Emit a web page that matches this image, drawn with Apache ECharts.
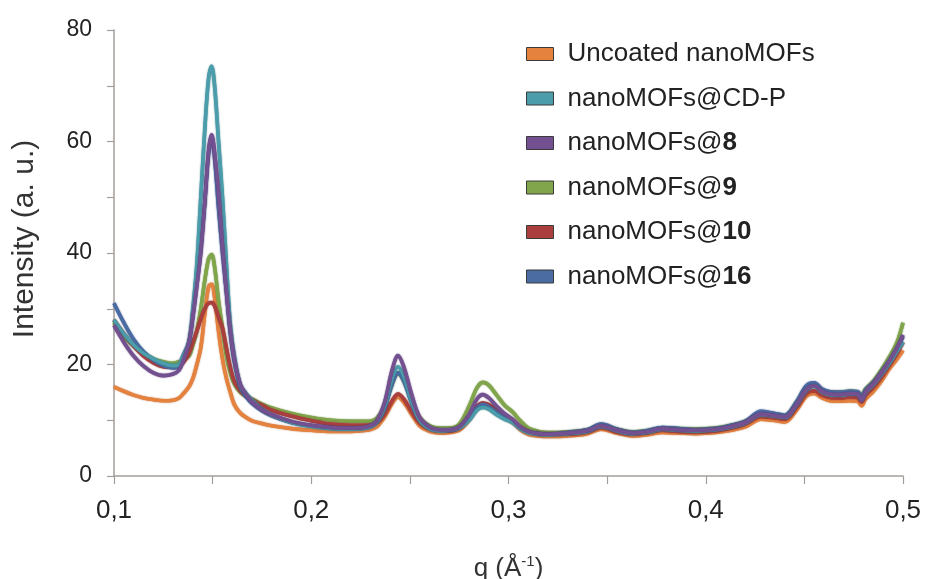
<!DOCTYPE html>
<html>
<head>
<meta charset="utf-8">
<script src="https://cdn.jsdelivr.net/npm/echarts@6/dist/echarts.min.js"></script>
<style>html,body{margin:0;padding:0;background:#fff}#c{width:925px;height:579px}</style>
</head>
<body>
<div id="c"></div>
<script>
const Q = [0.100,0.105,0.110,0.115,0.120,0.125,0.130,0.133,0.135,0.138,0.140,0.142,0.144,0.146,0.148,0.1495,0.151,0.153,0.155,0.157,0.159,0.161,0.164,0.167,0.170,0.175,0.180,0.190,0.200,0.210,0.220,0.228,0.233,0.237,0.241,0.244,0.247,0.251,0.255,0.260,0.265,0.270,0.275,0.280,0.284,0.287,0.290,0.294,0.298,0.302,0.306,0.310,0.315,0.320,0.330,0.340,0.347,0.355,0.363,0.370,0.378,0.386,0.395,0.405,0.413,0.420,0.428,0.434,0.440,0.446,0.451,0.455,0.459,0.463,0.468,0.473,0.477,0.479,0.481,0.485,0.489,0.493,0.497,0.500];

const uncoated = [16,15.2,14.5,14,13.7,13.5,
 13.6,14,14.7,16,17.5,20,23,29,34,34.4,
 32,26,21,17.5,15,12.8,11.3,10.5,9.9,
 9.4,9.0,8.5,8.2,8.0,8.0,8.2,
 8.8,10.5,13,14.2,13.2,11,9,8,7.7,
 7.8,8.2,10,12,12.6,12.3,11.4,10.4,9.6,8.3,7.5,7.2,7.1,
 7.2,7.6,8.4,7.7,7.2,7.4,7.8,7.7,7.6,7.8,8.2,8.8,
 10.2,10,9.7,11.8,14.3,14.8,14,13.5,13.4,13.5,13.4,12.6,13.8,15.2,17,19.2,21,22.5];

const cdp = [28,25.5,23.5,22,21,20.2,
 19.8,20,21.5,24,30,38,50,62,71.5,73.5,
 70,60,50,38,27,21.5,16.3,14.8,13.6,
 12,10.9,9.6,8.9,8.5,8.4,8.6,
 9.6,12.3,17.5,19.6,17.8,13.3,10,8.5,8.1,
 8.2,8.6,10,11.8,12.3,12,11,10.2,9.6,8.5,7.8,7.5,7.4,
 7.6,8,8.9,8.1,7.6,7.8,8.4,8.2,8.1,8.3,8.8,9.5,
 11,10.8,10.5,12.7,15.4,16.1,15.1,14.6,14.5,14.7,14.6,13.7,15,16.4,18.2,20.2,22.4,24];

const m8 = [27,24,21.5,19.7,18.5,18,
 18.3,19,20.5,24,28.5,34,40,49,58.5,61.2,
 58,51,41.5,33,26,21,16.5,14.6,13.3,
 11.9,11,9.8,9.1,8.7,8.6,8.8,
 9.8,13,19,21.6,19.5,14.5,10.5,8.8,8.3,
 8.3,8.8,11,13.8,14.6,14,12.5,11.2,10.2,8.8,8.0,7.6,7.5,
 7.7,8.1,9.0,8.2,7.7,7.9,8.5,8.3,8.2,8.4,8.9,9.6,
 11.1,10.9,10.6,12.8,15.5,16.2,15.2,14.7,14.6,14.8,14.7,13.6,15.1,16.6,18.5,20.6,23,25.3];

const m9 = [27.5,25,23.3,22,21,20.5,
 20.2,20.5,20.8,21.5,23.5,26,30,35,39,39.7,
 37.5,31.5,26.5,21.5,18.5,16.5,15,14.3,13.8,
 12.9,12.2,11.2,10.5,10,9.8,9.8,
 10.3,12.5,16.5,18.5,17,13.5,10.5,9,8.6,
 8.6,9.3,12.5,15.8,16.8,16.3,14.5,12.7,11.5,9.9,8.6,8.0,7.8,
 7.9,8.3,9.2,8.4,7.9,8.1,8.6,8.5,8.4,8.6,9.1,9.8,
 11,11,10.8,13.2,15.8,16.2,15.4,15,15,15.2,15.1,14.4,15.6,17,19,21.3,24,27.5];

const m10 = [28,25.5,23.3,21.5,20.3,19.6,
 19.5,19.8,20.3,22,24,26,28.2,30,31,31.1,
 30.5,28.5,26.5,23,19.5,17,15.3,14.3,13.6,
 12.7,11.8,10.7,9.9,9.3,9.1,9.1,
 9.5,11,13.5,14.7,13.8,11.5,9.5,8.4,8.1,
 8.1,8.6,10.5,12.5,13.1,12.8,11.8,10.8,10,8.8,8.0,7.6,7.5,
 7.5,7.9,8.7,7.9,7.5,7.7,8.2,8.0,7.9,8.1,8.6,9.3,
 10.7,10.5,10.2,12.3,14.8,15.3,14.5,14.1,14,14.2,14.1,13.3,14.5,15.9,17.7,19.8,22,24];

const m16 = [31,27.5,24.5,22.3,20.8,19.8,
 19.4,19.8,21.5,24,29,35.5,41,49,58,60.5,
 57,48,40,33,25.5,20.5,16,14.2,13,
 11.7,10.8,9.6,9.0,8.6,8.5,8.7,
 9.6,12,16.5,18.5,17,13,10,8.5,8.2,
 8.2,8.7,10.3,12.2,12.8,12.4,11.4,10.5,9.8,8.6,7.9,7.6,7.5,
 7.8,8.3,9.3,8.4,7.8,8.1,8.7,8.5,8.3,8.5,9.1,9.8,
 11.6,11.3,10.9,13.3,16.2,16.7,15.6,15.1,15,15.2,15.1,14.1,15.4,16.8,18.6,20.6,23,25];

const names = ['Uncoated nanoMOFs','nanoMOFs@CD-P','nanoMOFs@8','nanoMOFs@9','nanoMOFs@10','nanoMOFs@16'];
const colors = ['#e5823e','#4b9dab','#73508f','#80a54a','#ab3f3d','#4b6ba3'];
const edges = ['#b8602a','#2f7683','#553470','#5f8030','#842a29','#33508a'];
const seriesData = [uncoated, cdp, m8, m9, m10, m16];
const zOrder = [2,4,5,3,3,3];

const FONT = 'Liberation Sans, Arial, sans-serif';
const axisColor = '#a39e9a';

const chart = echarts.init(document.getElementById('c'), null, {renderer:'canvas'});
chart.setOption({
  animation:false,
  backgroundColor:'#fff',
  grid:{left:114, right:22, top:30, bottom:103, containLabel:false, outerBoundsMode:'none'},
  legend:{
    data:names,
    orient:'vertical',
    left:521, top:36,
    icon:'rect',
    itemWidth:27, itemHeight:13,
    itemGap:18.5,
    itemStyle:{borderColor:'#3a3a3a', borderWidth:1},
    textStyle:{fontFamily:FONT, fontSize:26, color:'#222', padding:[0,0,0,9],
      rich:{b:{fontFamily:FONT, fontSize:26, fontWeight:'bold', color:'#222'}}},
    formatter:function(n){ return n.replace(/@(\d+)$/, '@{b|$1}'); }
  },
  xAxis:{
    type:'value', min:0.1, max:0.5, interval:0.1,
    name:'q (Å{sup|-1})', nameLocation:'middle', nameGap:78,
    nameTextStyle:{fontFamily:FONT, fontSize:26, color:'#333',
      rich:{sup:{fontFamily:FONT, fontSize:15, color:'#333', verticalAlign:'top', padding:[0,0,14,0]}}},
    axisLine:{show:true, lineStyle:{color:axisColor, width:1.5}},
    axisTick:{show:true, inside:false, length:8, lineStyle:{color:axisColor, width:1.2}},
    minorTick:{show:true, splitNumber:2, length:8, lineStyle:{color:axisColor, width:1.2}},
    splitLine:{show:false},
    axisLabel:{fontFamily:FONT, fontSize:26, color:'#222', margin:22,
      formatter:function(v){ return v.toFixed(1).replace('.', ','); }}
  },
  yAxis:{
    type:'value', min:0, max:80, interval:20,
    name:'Intensity (a. u.)', nameLocation:'middle', nameGap:74, nameRotate:90,
    nameTextStyle:{fontFamily:FONT, fontSize:30, color:'#333', padding:[0,0,0,28]},
    axisLine:{show:true, lineStyle:{color:axisColor, width:1.5}},
    axisTick:{show:true, inside:false, length:7, lineStyle:{color:axisColor, width:1.2}},
    minorTick:{show:true, splitNumber:2, length:7, lineStyle:{color:axisColor, width:1.2}},
    splitLine:{show:false},
    axisLabel:{fontFamily:FONT, fontSize:23, color:'#222', margin:22}
  },
  series: names.map(function(n,i){
    return {
      name:n, type:'line', showSymbol:false, symbol:'none', smooth:0.35,
      z: zOrder[i],
      color: colors[i],
      lineStyle:{width:3.6, color:colors[i], shadowColor:edges[i], shadowBlur:1.5},
      itemStyle:{color:colors[i]},
      data: Q.map(function(q,k){ return [q, seriesData[i][k]]; })
    };
  })
});
</script>
</body>
</html>
